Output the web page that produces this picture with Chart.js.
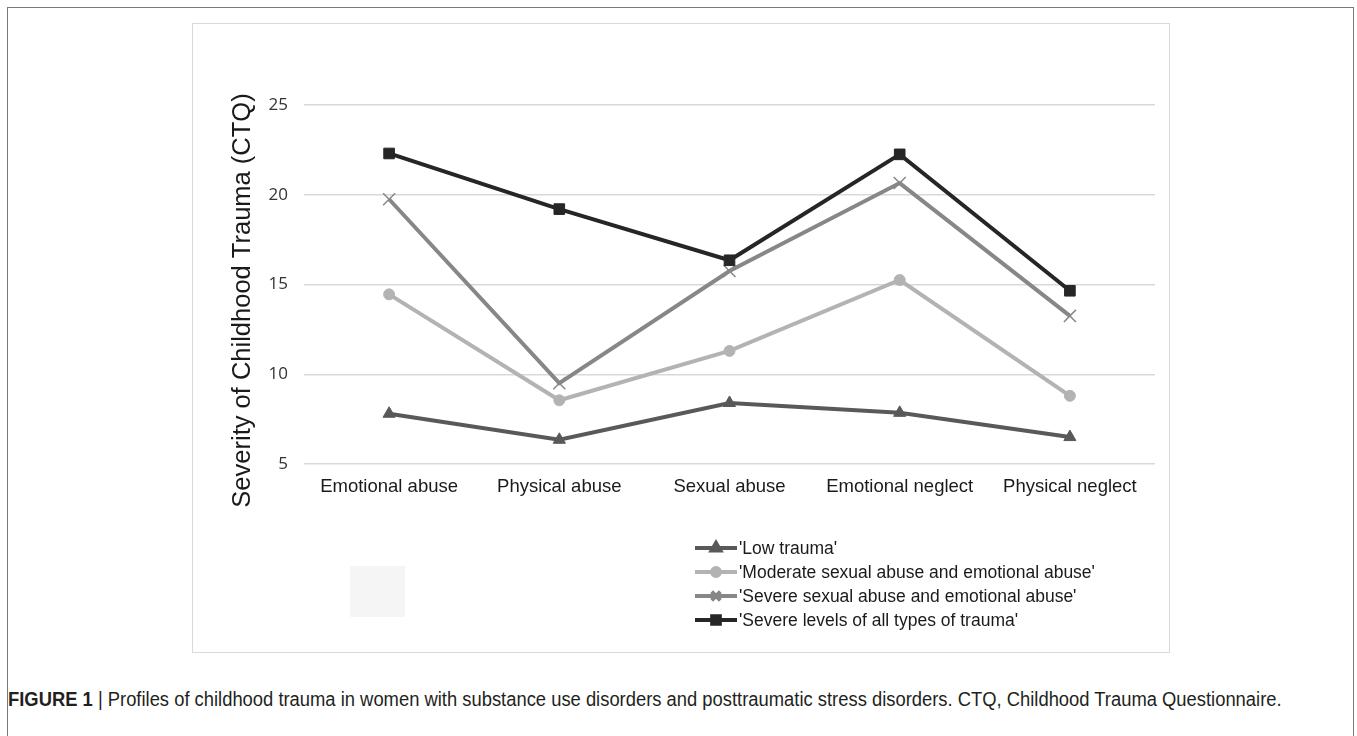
<!DOCTYPE html>
<html>
<head>
<meta charset="utf-8">
<script src="https://cdn.jsdelivr.net/npm/chart.js@4"></script>
<style>
  html, body { margin: 0; padding: 0; background: #fff; }
  body { width: 1357px; height: 736px; position: relative; overflow: hidden; }
  #frame { position: absolute; left: 7px; top: 7px; width: 1347px; height: 760px;
           border: 1.5px solid #7a7a7a; box-sizing: border-box; }
  #box { position: absolute; left: 192px; top: 23px; width: 978px; height: 630px;
         border: 1px solid #d9d9d9; box-sizing: border-box; }
  #box canvas { position: absolute; left: -1px; top: -1px; }
  #swatch { position: absolute; left: 350px; top: 566px; width: 55px; height: 51px; background: #f5f5f5; }
  #caption { position: absolute; left: 8px; top: 688px; white-space: nowrap;
             font-family: "Liberation Sans", Arial, sans-serif;
             font-size: 20px; color: #231f20;
             transform: scaleX(0.919); transform-origin: 0 50%; }
  #caption b { font-weight: bold; }
</style>
</head>
<body>
<div id="frame"></div>
<div id="box"><canvas id="chart" width="978" height="630"></canvas></div>
<div id="swatch"></div>
<div id="caption"><b>FIGURE 1</b> | Profiles of childhood trauma in women with substance use disorders and posttraumatic stress disorders. CTQ, Childhood Trauma Questionnaire.</div>
<script>
// CTQ subscale means per latent profile
const categories = ["Emotional abuse", "Physical abuse", "Sexual abuse", "Emotional neglect", "Physical neglect"];
const lowTrauma = [7.8, 6.35, 8.4, 7.85, 6.5];
const moderateSexualEmotional = [14.45, 8.55, 11.3, 15.25, 8.8];
const severeSexualEmotional = [19.75, 9.5, 15.75, 20.65, 13.25];
const severeAllTypes = [22.3, 19.2, 16.35, 22.25, 14.65];
const seriesNames = [
  "'Low trauma'",
  "'Moderate sexual abuse and emotional abuse'",
  "'Severe sexual abuse and emotional abuse'",
  "'Severe levels of all types of trauma'"
];
const yTicks = [5, 10, 15, 20, 25];
const yTitle = "Severity of Childhood Trauma (CTQ)";

const FONT = "'Liberation Sans', Arial, sans-serif";

// Rotated y-axis title, set a little below the middle of the plot
const yAxisTitle = {
  id: "yAxisTitle",
  afterDraw(chart) {
    const ctx = chart.ctx;
    const area = chart.chartArea;
    ctx.save();
    ctx.translate(51, (area.top + area.bottom) / 2 + 16);
    ctx.rotate(-Math.PI / 2);
    ctx.font = "25.5px " + FONT;
    ctx.fillStyle = "#1a1a1a";
    ctx.textAlign = "center";
    ctx.textBaseline = "middle";
    ctx.fillText(yTitle, 0, 0);
    ctx.restore();
  }
};

// Legend stacked in rows under the plot, each row a short line with its marker
const rowLegend = {
  id: "rowLegend",
  afterDraw(chart) {
    const ctx = chart.ctx;
    const x0 = 503, y0 = 525, step = 24, len = 42;
    chart.data.datasets.forEach((ds, i) => {
      const y = y0 + i * step;
      ctx.save();
      ctx.strokeStyle = ds.borderColor;
      ctx.lineWidth = 4;
      ctx.beginPath();
      ctx.moveTo(x0, y);
      ctx.lineTo(x0 + len, y);
      ctx.stroke();
      ctx.fillStyle = ds.pointBackgroundColor;
      ctx.strokeStyle = ds.pointBorderColor;
      Chart.helpers.drawPoint(ctx, {
        pointStyle: ds.pointStyle,
        radius: ds.pointRadius * 0.72,
        rotation: 0,
        borderWidth: ds.pointBorderWidth
      }, x0 + len / 2, y);
      ctx.fillStyle = "#1a1a1a";
      ctx.font = "17.5px " + FONT;
      ctx.textBaseline = "middle";
      ctx.textAlign = "left";
      ctx.fillText(ds.label, x0 + len + 2, y + 1);
      ctx.restore();
    });
  }
};

function series(label, data, color, style, radius, order, extra) {
  return Object.assign({
    label, data, order,
    borderColor: color,
    borderWidth: 4,
    pointStyle: style,
    pointRadius: radius,
    pointHoverRadius: radius,
    pointBackgroundColor: color,
    pointBorderColor: color,
    pointBorderWidth: 1,
    tension: 0,
    fill: false
  }, extra || {});
}

new Chart(document.getElementById("chart"), {
  type: "line",
  data: {
    labels: categories,
    datasets: [
      series(seriesNames[0], lowTrauma, "#595959", "triangle", 7, 4),
      series(seriesNames[1], moderateSexualEmotional, "#b3b3b3", "circle", 5.5, 3),
      series(seriesNames[2], severeSexualEmotional, "#878787", "crossRot", 8.5, 2,
             { pointBorderWidth: 1.5 }),
      series(seriesNames[3], severeAllTypes, "#262626", "rect", 7.5, 1)
    ]
  },
  options: {
    responsive: false,
    devicePixelRatio: 1,
    animation: false,
    events: [],
    layout: { padding: { left: 25, right: 15, top: 82, bottom: 149 } },
    plugins: { legend: { display: false }, tooltip: { enabled: false } },
    scales: {
      x: {
        offset: true,
        grid: { display: false, drawTicks: false },
        border: { display: false },
        ticks: { color: "#1a1a1a", font: { family: FONT, size: 18.5 }, padding: 12, maxRotation: 0 },
        afterFit(scale) { scale.height = 40; }
      },
      y: {
        min: 5, max: 25,
        afterBuildTicks(scale) { scale.ticks = yTicks.map(v => ({ value: v })); },
        grid: { color: "#d9d9d9", lineWidth: 1.5, drawTicks: false },
        border: { display: false },
        ticks: { color: "#333333", font: { family: "'Open Sans', sans-serif", size: 17 }, padding: 16 },
        afterFit(scale) { scale.width = 87; }
      }
    }
  },
  plugins: [yAxisTitle, rowLegend]
});
</script>
</body>
</html>
